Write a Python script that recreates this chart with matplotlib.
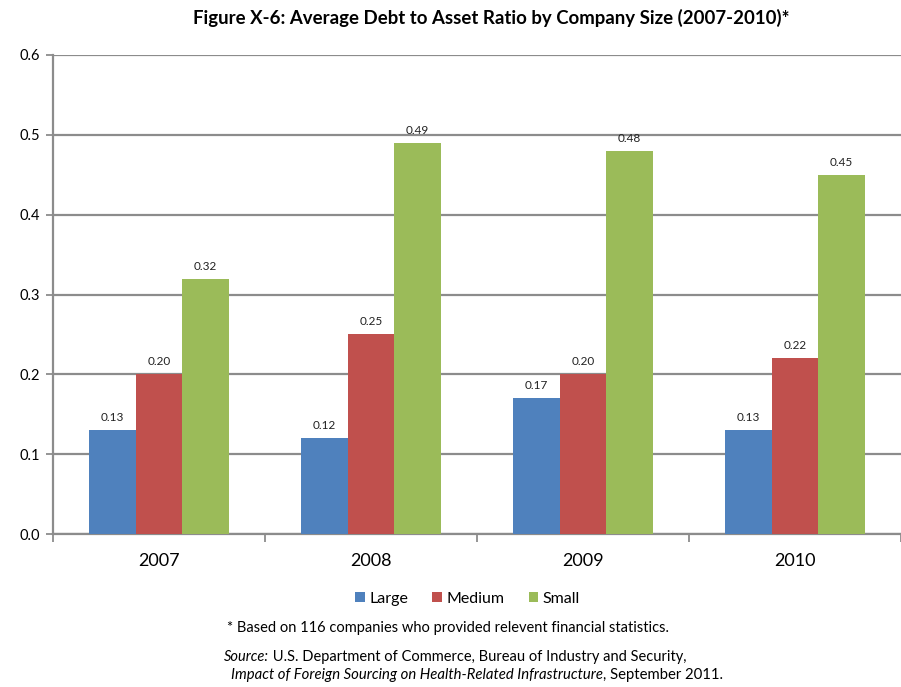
import numpy as np
import matplotlib
matplotlib.use("Agg")
import matplotlib.pyplot as plt
from matplotlib.patches import Patch

years = ["2007", "2008", "2009", "2010"]
sizes = ["Large", "Medium", "Small"]
large = [0.13, 0.12, 0.17, 0.13]
medium = [0.20, 0.25, 0.20, 0.22]
small = [0.32, 0.49, 0.48, 0.45]
colors = ["#4F81BD", "#C0504D", "#9BBB59"]

plt.rcParams["font.family"] = ["Lato", "DejaVu Sans"]
grid_gray = "#8C8C8C"

fig = plt.figure(figsize=(9.01, 6.87), dpi=100)
fig.patch.set_facecolor("white")
ax = fig.add_axes([53 / 901, 1 - 534 / 687, 1 - 53 / 901, (534 - 55) / 687])

x = np.arange(len(years))
w = 0.22
for k, (vals, col) in enumerate(zip([large, medium, small], colors)):
    pos = x + (k - 1) * w
    bars = ax.bar(pos, vals, width=w, color=col, zorder=3)
    for b, v in zip(bars, vals):
        ax.annotate(f"{v:.2f}", (b.get_x() + b.get_width() / 2, v),
                    xytext=(0, 5), textcoords="offset points",
                    ha="center", va="bottom", fontsize=8.5, color="#222222")

# each year slot is ~214.5 px wide; the plot runs past the right edge
ax.set_ylim(0, 0.6)
ax.set_xlim(-0.5, -0.5 + (901 - 53) / 214.5)
ax.set_yticks(np.arange(0, 0.61, 0.1))
ax.set_yticklabels([f"{t:.1f}" for t in np.arange(0, 0.61, 0.1)], fontsize=10.5)
ax.yaxis.grid(True, color=grid_gray, linewidth=1.6, zorder=0)
ax.set_axisbelow(True)

# category boundaries as tick marks, year labels centered in each slot
ax.set_xticks([-0.5, 0.5, 1.5, 2.5, 3.5])
ax.set_xticklabels([])
ax.set_xticks(x, minor=True)
ax.set_xticklabels(years, minor=True, fontsize=13)
ax.tick_params(axis="x", which="minor", length=0, pad=14)
ax.tick_params(axis="x", which="major", length=6, color=grid_gray, width=1.3)
ax.tick_params(axis="y", length=5, color=grid_gray, width=1.3, pad=4)

for s in ["top", "right"]:
    ax.spines[s].set_visible(False)
for s in ["left", "bottom"]:
    ax.spines[s].set_color(grid_gray)
    ax.spines[s].set_linewidth(1.6)

fig.text(0.545, 1 - 18 / 687, "Figure X-6: Average Debt to Asset Ratio by Company Size (2007-2010)*",
         ha="center", va="center", fontsize=13.4, fontweight="bold")

handles = [Patch(facecolor=c, edgecolor="none") for c in colors]
fig.legend(handles, sizes, loc="center", bbox_to_anchor=(0.519, 1 - 599 / 687), ncol=3,
           frameon=False, fontsize=11.5, handlelength=0.6, handleheight=0.6,
           handletextpad=0.3, columnspacing=1.5)

fig.text(0.497, 1 - 628 / 687, "* Based on 116 companies who provided relevent financial statistics.",
         ha="center", va="center", fontsize=10.5)

renderer = fig.canvas.get_renderer()


def mixed_line(pieces, y, center_x, size=10.5):
    texts = []
    for s, style in pieces:
        texts.append(fig.text(0, y, s, fontsize=size, style=style, ha="left", va="center"))
    widths = [t.get_window_extent(renderer).width for t in texts]
    total = sum(widths)
    start = center_x * fig.bbox.width - total / 2
    for t, wd in zip(texts, widths):
        t.set_x(start / fig.bbox.width)
        start += wd


mixed_line([("Source:", "italic"),
            (" U.S. Department of Commerce, Bureau of Industry and Security,", "normal")],
           1 - 657 / 687, 0.505)
mixed_line([("Impact of Foreign Sourcing on Health-Related Infrastructure", "italic"),
            (", September 2011.", "normal")],
           1 - 675 / 687, 0.529, size=10.7)

fig.savefig("out.png", dpi=100)
